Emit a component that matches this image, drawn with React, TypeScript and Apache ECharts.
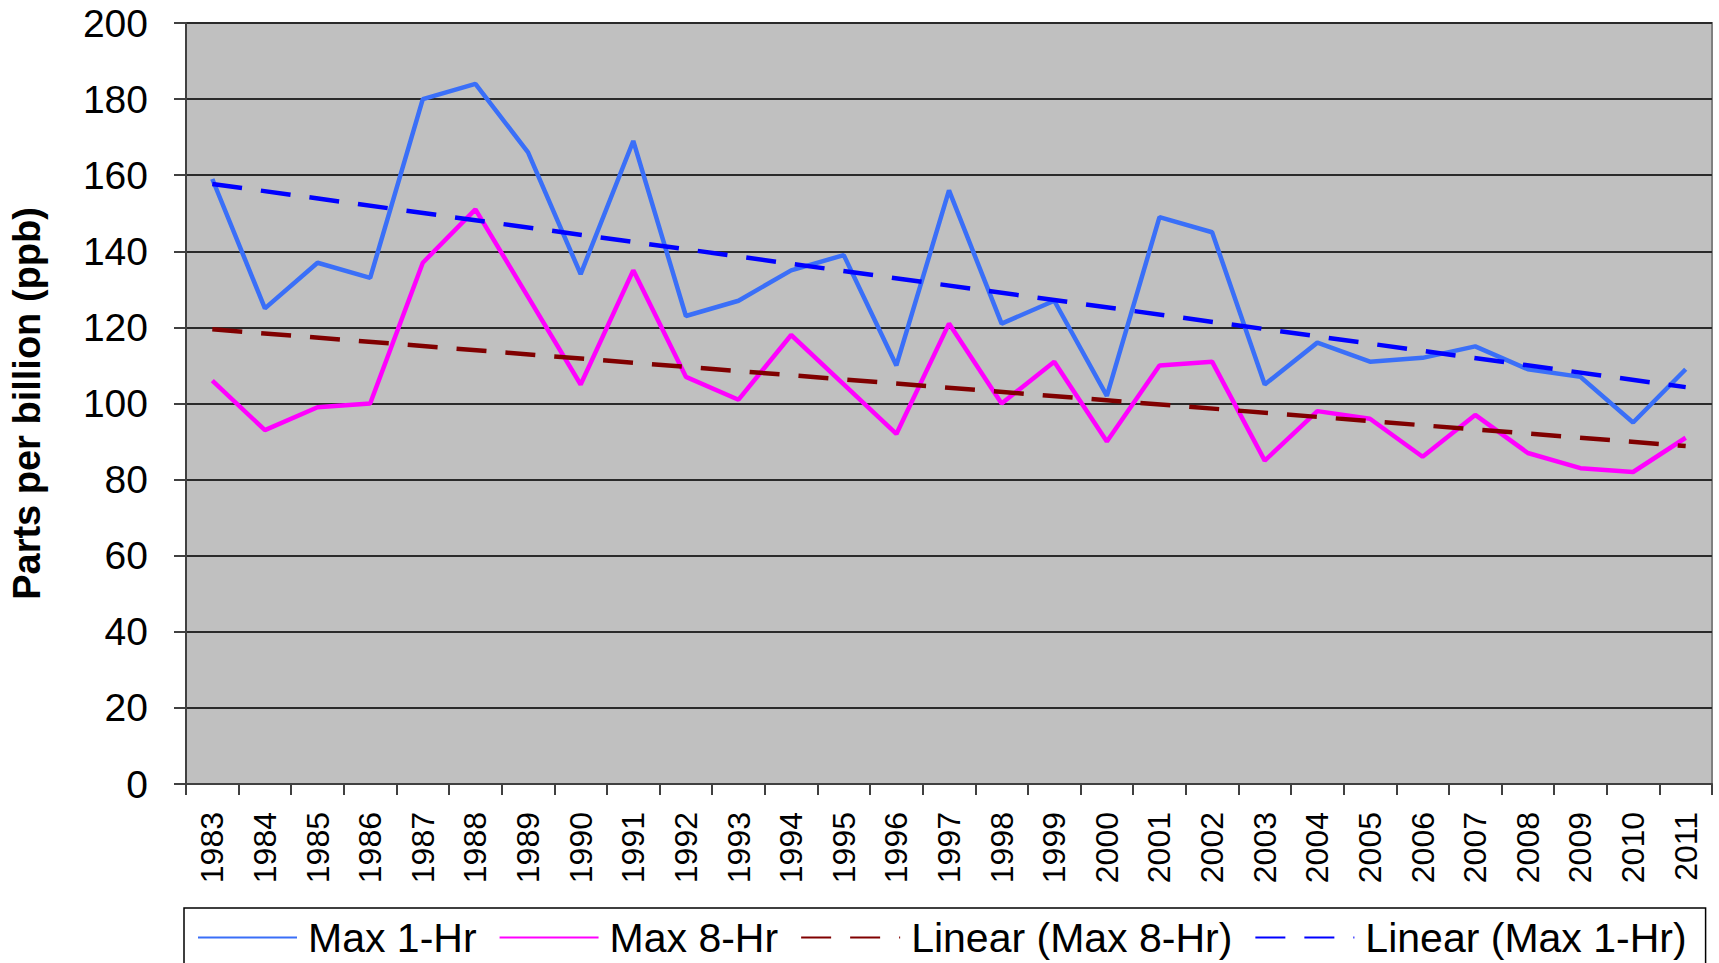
import React, { useEffect, useRef } from "react";
import * as echarts from "echarts";

const years = [
  "1983", "1984", "1985", "1986", "1987", "1988", "1989", "1990", "1991", "1992",
  "1993", "1994", "1995", "1996", "1997", "1998", "1999", "2000", "2001", "2002",
  "2003", "2004", "2005", "2006", "2007", "2008", "2009", "2010", "2011",
];

const max1Hr = [
  159, 125, 137, 133, 180, 184, 166, 134, 169, 123,
  127, 135, 139, 110, 156, 121, 127, 102, 149, 145,
  105, 116, 111, 112, 115, 109, 107, 95, 109,
];

const max8Hr = [
  106, 93, 99, 100, 137, 151, 128, 105, 135, 107,
  101, 118, 105, 92, 121, 100, 111, 90, 110, 111,
  85, 98, 96, 86, 97, 87, 83, 82, 91,
];

// Trend lines: value at the first and last year
const trend8HrEnds = [119.5, 88.8];
const trend1HrEnds = [157.7, 104.3];

const seriesNames = ["Max 1-Hr", "Max 8-Hr", "Linear (Max 8-Hr)", "Linear (Max 1-Hr)"];

const yTicks = { min: 0, max: 200, interval: 20 };

function endsToData(ends: number[]) {
  return years.map((_, i) =>
    i === 0 ? ends[0] : i === years.length - 1 ? ends[1] : null
  );
}

const FONT = "'Liberation Sans', Arial, sans-serif";

export default function App() {
  const ref = useRef<HTMLDivElement>(null);

  useEffect(() => {
    if (!ref.current) return;
    const chart = echarts.init(ref.current, undefined, { renderer: "svg" });
    const dash = [30, 19];
    chart.setOption({
      animation: false,
      backgroundColor: "#ffffff",
      textStyle: { fontFamily: FONT },
      grid: {
        left: 186,
        right: 7,
        top: 23,
        bottom: 179,
        show: true,
        backgroundColor: "#C0C0C0",
        borderColor: "#808080",
        borderWidth: 2,
      },
      legend: {
        data: seriesNames,
        left: 184,
        top: 908,
        orient: "horizontal",
        backgroundColor: "#ffffff",
        borderColor: "#000000",
        borderWidth: 1.5,
        borderRadius: 0,
        padding: [9, 19, 9, 13],
        itemWidth: 99,
        itemHeight: 14,
        itemGap: 22,
        itemStyle: { color: "transparent", borderColor: "transparent", borderWidth: 0, opacity: 0 },
        textStyle: {
          fontFamily: FONT,
          fontSize: 41,
          color: "#000000",
          padding: [0, 0, 0, 6],
        },
      },
      xAxis: {
        type: "category",
        data: years,
        boundaryGap: true,
        axisLine: { show: true, lineStyle: { color: "#404040", width: 2 } },
        axisTick: { show: true, length: 11, inside: false, lineStyle: { color: "#404040", width: 2 } },
        axisLabel: {
          interval: 0,
          rotate: 90,
          margin: 28,
          fontFamily: FONT,
          fontSize: 32,
          color: "#000000",
        },
        splitLine: { show: false },
      },
      yAxis: {
        type: "value",
        min: yTicks.min,
        max: yTicks.max,
        interval: yTicks.interval,
        name: "Parts per billion (ppb)",
        nameLocation: "middle",
        nameRotate: 90,
        nameGap: 140,
        nameTextStyle: {
          fontFamily: FONT,
          fontSize: 38,
          fontWeight: "bold",
          color: "#000000",
        },
        axisLine: { show: true, lineStyle: { color: "#404040", width: 2 } },
        axisTick: { show: true, length: 12, inside: false, lineStyle: { color: "#404040", width: 2 } },
        axisLabel: {
          margin: 38,
          fontFamily: FONT,
          fontSize: 39,
          color: "#000000",
        },
        splitLine: { show: true, lineStyle: { color: "#2a2a2a", width: 2 } },
      },
      series: [
        {
          name: seriesNames[0],
          type: "line",
          data: max1Hr,
          symbol: "none",
          lineStyle: { color: "#3A6FF8", width: 4.5 },
          itemStyle: { color: "#3A6FF8" },
          z: 3,
        },
        {
          name: seriesNames[1],
          type: "line",
          data: max8Hr,
          symbol: "none",
          lineStyle: { color: "#FF00FF", width: 4.5 },
          itemStyle: { color: "#FF00FF" },
          z: 3,
        },
        {
          name: seriesNames[2],
          type: "line",
          data: endsToData(trend8HrEnds),
          connectNulls: true,
          symbol: "none",
          lineStyle: { color: "#800000", width: 4.5, type: dash },
          itemStyle: { color: "#800000" },
          z: 4,
        },
        {
          name: seriesNames[3],
          type: "line",
          data: endsToData(trend1HrEnds),
          connectNulls: true,
          symbol: "none",
          lineStyle: { color: "#0000FF", width: 4.5, type: dash },
          itemStyle: { color: "#0000FF" },
          z: 4,
        },
      ],
    });
    return () => chart.dispose();
  }, []);

  return (
    <div
      ref={ref}
      style={{ position: "fixed", left: 0, top: 0, width: 1719, height: 963 }}
    />
  );
}
